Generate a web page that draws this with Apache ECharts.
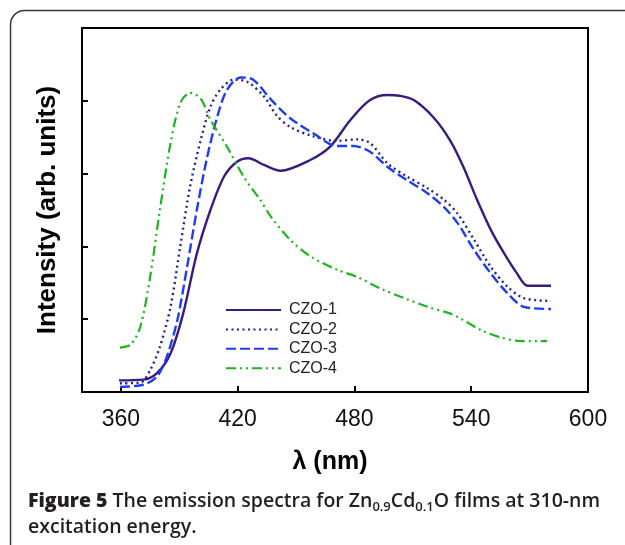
<!DOCTYPE html>
<html>
<head>
<meta charset="utf-8">
<script src="https://cdn.jsdelivr.net/npm/echarts@6/dist/echarts.min.js"></script>
<style>
  html, body { margin: 0; padding: 0; background: #fff; }
  #wrap { position: relative; width: 625px; height: 545px; overflow: hidden; }
  #chart { position: absolute; left: 0; top: 0; width: 625px; height: 545px; }
  .caption {
    position: absolute; left: 28px; top: 487px;
    font-family: 'Open Sans', sans-serif; font-size: 19.5px; font-weight: 600; line-height: 26px;
    color: #231f20; white-space: nowrap;
  }
  .caption b { font-weight: 800; }
  .caption sub { font-size: 13px; line-height: 0; vertical-align: -4px; }
</style>
</head>
<body>
<div id="wrap">
  <div id="chart"></div>
  <div class="caption"><b>Figure 5</b> The emission spectra for Zn<sub>0.9</sub>Cd<sub>0.1</sub>O films at 310-nm<br>excitation energy.</div>
</div>
<script>
// wavelength (nm), intensity (arb. units)
const czo1 = [[359, 0.16], [371.5, 0.17], [378.5, 0.26], [385.5, 0.53], [392, 1.08], [399, 1.9], [406, 2.5], [413, 2.96], [419.5, 3.16], [425.5, 3.21], [433.5, 3.12], [442, 3.04], [457.5, 3.19], [467.5, 3.37], [478, 3.74], [488, 4.01], [497, 4.08], [503, 4.07], [510.5, 4.01], [521, 3.76], [529.5, 3.44], [536, 3.09], [543, 2.64], [550, 2.23], [557, 1.9], [563.5, 1.63], [569, 1.46], [581, 1.46]];
const czo2 = [[359.5, 0.12], [370, 0.13], [375, 0.3], [380, 0.62], [385.5, 1.17], [390.5, 2.0], [395.5, 2.82], [401, 3.46], [406, 3.92], [411, 4.15], [418, 4.29], [425, 4.26], [433.5, 4.06], [440, 3.8], [447, 3.64], [459, 3.51], [471, 3.45], [481.5, 3.47], [488, 3.42], [497, 3.14], [507, 2.96], [517.5, 2.8], [526, 2.64], [533, 2.45], [541.5, 2.09], [550, 1.72], [558.5, 1.45], [567, 1.29], [581, 1.25]];
const czo3 = [[359.5, 0.07], [371.5, 0.1], [378.5, 0.21], [383.5, 0.48], [389, 0.99], [394, 1.72], [399, 2.5], [404, 3.19], [409.5, 3.78], [414.5, 4.15], [421.5, 4.32], [428, 4.29], [437, 4.02], [447, 3.76], [459, 3.55], [471, 3.38], [479.5, 3.38], [488, 3.3], [497, 3.09], [507, 2.91], [517.5, 2.73], [526, 2.54], [533, 2.32], [541.5, 1.95], [550, 1.63], [558.5, 1.36], [567, 1.17], [581, 1.14]];
const czo4 = [[359.5, 0.61], [365, 0.65], [370, 0.9], [375, 1.58], [380, 2.5], [385.5, 3.42], [390.5, 3.97], [395.5, 4.11], [401, 4.03], [406, 3.74], [414.5, 3.37], [423, 2.96], [431.5, 2.64], [437, 2.41], [447, 2.09], [457.5, 1.86], [471, 1.68], [481.5, 1.58], [493.5, 1.42], [505.5, 1.29], [517.5, 1.17], [529, 1.08], [534.5, 1.01], [545, 0.85], [555, 0.75], [565.5, 0.7], [579, 0.7]];

const seriesNames = ['CZO-1', 'CZO-2', 'CZO-3', 'CZO-4'];
const xTicks = [360, 420, 480, 540, 600];

const chart = echarts.init(document.getElementById('chart'), null, { renderer: 'canvas' });

const lineSeries = (name, data, color, dash, width) => ({
  name: name,
  type: 'line',
  data: data,
  smooth: 0.3,
  symbol: 'none',
  showSymbol: false,
  lineStyle: { color: color, width: width, type: dash },
  itemStyle: { color: color },
});

const option = {
  backgroundColor: '#fff',
  animation: false,
  graphic: [
    {
      type: 'rect',
      silent: true,
      z: -1,
      shape: { x: 10.5, y: 10.5, width: 700, height: 600, r: 14 },
      style: { fill: 'none', stroke: '#3a3a3a', lineWidth: 1.5 },
    },
  ],
  grid: {
    left: 82,
    right: 37,
    top: 28,
    bottom: 153,
    show: true,
    borderColor: '#000',
    borderWidth: 2,
    backgroundColor: 'transparent',
  },
  legend: {
    data: seriesNames,
    orient: 'vertical',
    left: 220,
    top: 297,
    itemWidth: 55,
    itemHeight: 16,
    itemGap: 3.4,
    // line series draw a circle on the legend line when symbol is 'none'; hide it
    itemStyle: { color: 'transparent', borderColor: 'transparent', borderWidth: 0, opacity: 0 },
    textStyle: {
      fontFamily: 'Liberation Sans, Arial, sans-serif',
      fontSize: 16,
      lineHeight: 16,
      color: '#222',
      padding: [0, 0, 0, 3],
    },
  },
  xAxis: {
    type: 'value',
    min: 340,
    max: 600,
    name: 'λ (nm)',
    nameLocation: 'middle',
    nameGap: 58,
    nameTextStyle: {
      fontFamily: 'Liberation Sans, Arial, sans-serif',
      fontSize: 25,
      fontWeight: 'bold',
      color: '#000',
      padding: [0, 10, 0, 0],
    },
    axisLine: { lineStyle: { color: '#000', width: 2 } },
    axisTick: { inside: true, length: 6, lineStyle: { color: '#000', width: 2 }, customValues: xTicks },
    axisLabel: {
      customValues: xTicks,
      margin: 16,
      fontFamily: 'Liberation Sans, Arial, sans-serif',
      fontSize: 23,
      color: '#111',
    },
    splitLine: { show: false },
  },
  yAxis: {
    type: 'value',
    min: 0,
    max: 5,
    interval: 1,
    name: 'Intensity (arb. units)',
    nameLocation: 'middle',
    nameRotate: 90,
    nameGap: 21,
    nameTextStyle: {
      fontFamily: 'Liberation Sans, Arial, sans-serif',
      fontSize: 26,
      fontWeight: 'bold',
      color: '#000',
    },
    axisLine: { lineStyle: { color: '#000', width: 2 } },
    axisTick: { inside: true, length: 6, lineStyle: { color: '#000', width: 2 } },
    axisLabel: { show: false },
    splitLine: { show: false },
  },
  series: [
    lineSeries(seriesNames[0], czo1, '#3b1a7f', 'solid', 2.4),
    lineSeries(seriesNames[1], czo2, '#22228f', [2, 3.5], 2.4),
    lineSeries(seriesNames[2], czo3, '#1f3df0', [10, 4], 2.4),
    lineSeries(seriesNames[3], czo4, '#22b322', [10, 4, 2, 4, 2, 4], 2.2),
  ],
};

chart.setOption(option);
</script>
</body>
</html>
